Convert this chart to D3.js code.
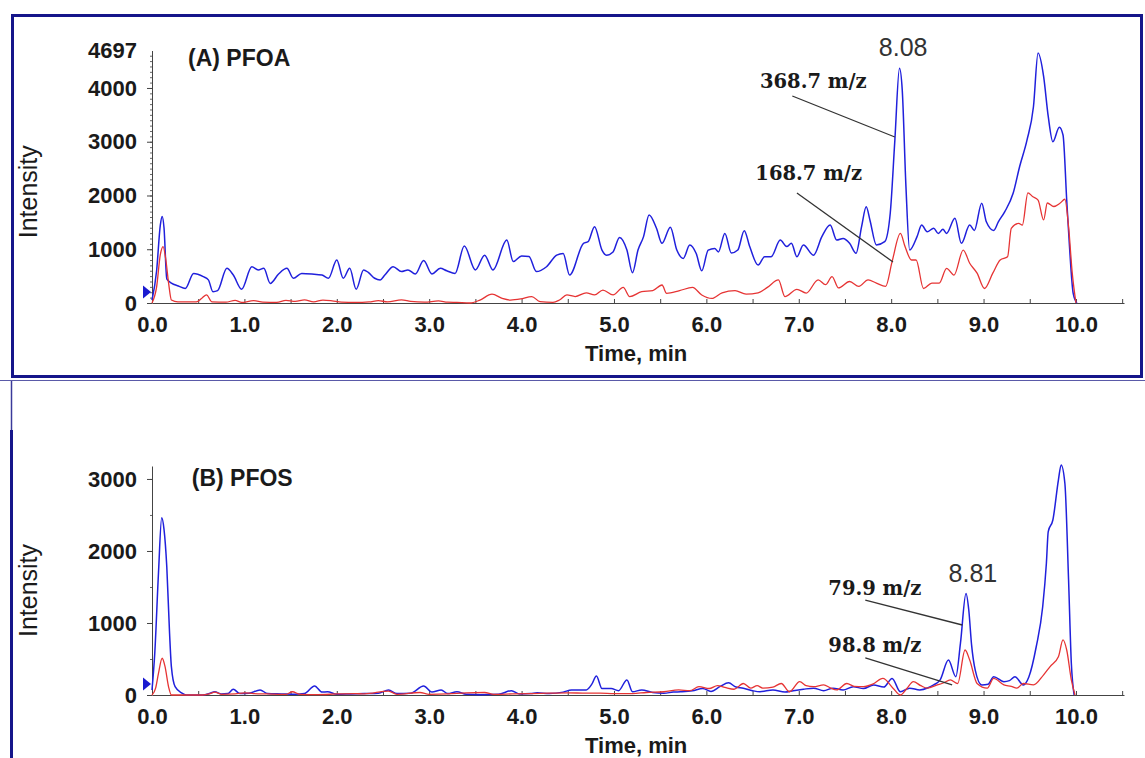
<!DOCTYPE html>
<html>
<head>
<meta charset="utf-8">
<script src="https://cdn.jsdelivr.net/npm/d3@7"></script>
<style>
  body { margin: 0; background: #fff; }
  svg { display: block; }
  .tick text { font-family: "Liberation Sans", Arial, sans-serif; font-weight: bold; font-size: 22px; fill: #1a1a1a; }
</style>
</head>
<body>
<script>
// PFOA, 368.7 m/z trace (time in min, intensity)
var pfoa369 = [[0,55],[0.05,600],[0.09,1450],[0.11,1610],[0.13,1400],[0.16,450],[0.21,370],[0.285,316],[0.36,270],[0.45,550],
  [0.555,490],[0.61,430],[0.66,210],[0.71,230],[0.81,645],[0.88,520],[0.97,255],[1.08,675],[1.15,615],[1.21,645],
  [1.28,365],[1.37,540],[1.46,645],[1.53,460],[1.62,550],[1.73,540],[1.84,520],[1.91,460],[2.0,800],[2.07,460],
  [2.14,645],[2.21,255],[2.29,615],[2.34,570],[2.41,460],[2.47,430],[2.52,520],[2.61,675],[2.70,585],[2.77,615],
  [2.85,540],[2.94,790],[3.03,540],[3.12,645],[3.19,600],[3.28,550],[3.38,1060],[3.50,615],[3.60,890],[3.69,615],
  [3.84,1170],[3.91,770],[4.0,875],[4.08,865],[4.16,585],[4.27,675],[4.38,890],[4.45,920],[4.52,520],[4.67,1110],
  [4.72,1140],[4.79,1420],[4.87,985],[4.92,890],[4.99,950],[5.06,1220],[5.14,985],[5.20,565],[5.26,985],[5.32,1235],
  [5.38,1637],[5.46,1390],[5.52,1110],[5.61,1410],[5.68,985],[5.75,830],[5.82,1080],[5.89,920],[5.95,600],[6.02,985],
  [6.09,1015],[6.13,950],[6.20,1295],[6.27,930],[6.34,985],[6.41,1345],[6.47,1045],[6.56,705],[6.63,860],[6.70,860],
  [6.80,1170],[6.87,1050],[6.92,1110],[6.98,860],[7.05,1080],[7.16,890],[7.25,1235],[7.34,1450],[7.41,1170],[7.48,1200],
  [7.55,1110],[7.62,925],[7.68,1420],[7.73,1790],[7.77,1545],[7.84,1080],[7.93,1140],[7.99,1670],[8.04,3030],[8.09,4365],
  [8.12,3960],[8.16,2165],[8.20,985],[8.28,1235],[8.33,1450],[8.39,1325],[8.46,1390],[8.51,1295],[8.56,1370],[8.60,1295],
  [8.69,1575],[8.76,1110],[8.85,1450],[8.90,1350],[8.98,1855],[9.03,1510],[9.11,1350],[9.16,1510],[9.23,1700],[9.32,2040],
  [9.39,2535],[9.47,3030],[9.54,3650],[9.59,4650],[9.65,4215],[9.70,3470],[9.75,3000],[9.82,3270],[9.86,3125],[9.90,1915],
  [9.93,1050],[9.97,180],[10.01,0]];

// PFOA, 168.7 m/z trace
var pfoa169 = [[0,0],[0.05,300],[0.09,900],[0.12,1050],[0.15,800],[0.18,365],[0.21,55],[0.28,20],[0.48,20],[0.54,90],
  [0.59,150],[0.65,20],[0.8,15],[0.9,50],[0.97,10],[1.1,45],[1.2,15],[1.35,10],[1.45,50],[1.55,30],
  [1.65,60],[1.75,20],[1.85,55],[1.95,40],[2.05,15],[2.2,10],[2.35,20],[2.45,45],[2.55,20],[2.7,60],
  [2.8,30],[2.95,15],[3.1,40],[3.2,15],[3.3,10],[3.44,0],[3.55,55],[3.68,165],[3.79,85],[3.88,55],
  [3.99,75],[4.11,120],[4.2,25],[4.34,10],[4.41,55],[4.49,150],[4.58,120],[4.70,190],[4.79,150],[4.88,240],
  [4.99,150],[5.10,290],[5.17,120],[5.30,210],[5.42,230],[5.52,335],[5.57,180],[5.71,230],[5.85,290],[5.95,150],
  [6.06,85],[6.17,190],[6.31,230],[6.43,165],[6.56,190],[6.66,290],[6.78,430],[6.85,120],[6.98,255],[7.08,185],
  [7.21,430],[7.29,340],[7.36,490],[7.43,280],[7.55,400],[7.65,310],[7.75,430],[7.84,370],[7.94,310],[8.01,770],
  [8.10,1295],[8.15,1050],[8.22,800],[8.27,800],[8.35,270],[8.44,370],[8.52,370],[8.60,645],[8.68,520],[8.78,985],
  [8.85,740],[8.93,555],[9.01,270],[9.10,555],[9.18,800],[9.26,860],[9.30,1390],[9.38,1480],[9.42,1450],[9.48,2050],
  [9.53,1980],[9.59,1915],[9.65,1545],[9.69,1860],[9.76,1795],[9.83,1860],[9.88,1930],[9.92,1420],[9.96,555],[10.0,0]];

// PFOS, 79.9 m/z trace
var pfos80 = [[0,70],[0.03,580],[0.07,1690],[0.105,2460],[0.13,2300],[0.16,1780],[0.19,860],[0.21,390],[0.25,115],[0.32,30],
  [0.37,0],[0.55,0],[0.62,20],[0.68,45],[0.75,15],[0.82,20],[0.88,80],[0.95,20],[1.05,25],[1.17,70],
  [1.25,20],[1.4,15],[1.55,10],[1.65,20],[1.76,125],[1.84,40],[1.9,45],[2.0,10],[2.15,15],[2.3,20],
  [2.45,25],[2.56,70],[2.65,20],[2.8,25],[2.94,125],[3.03,40],[3.13,70],[3.2,20],[3.3,45],[3.4,10],
  [3.55,5],[3.75,10],[3.89,60],[3.98,15],[4.1,20],[4.17,30],[4.3,20],[4.45,40],[4.54,70],[4.7,70],
  [4.76,150],[4.81,265],[4.87,90],[4.97,90],[5.05,60],[5.14,210],[5.2,45],[5.3,70],[5.42,35],[5.54,25],
  [5.64,40],[5.72,45],[5.85,60],[5.96,90],[6.05,50],[6.15,120],[6.24,170],[6.32,110],[6.4,95],[6.5,60],
  [6.58,45],[6.72,70],[6.85,40],[6.94,60],[7.05,80],[7.16,95],[7.27,60],[7.37,95],[7.48,70],[7.59,115],
  [7.7,90],[7.81,140],[7.92,110],[8.01,230],[8.1,45],[8.2,95],[8.31,70],[8.4,100],[8.46,140],[8.53,210],
  [8.62,485],[8.70,255],[8.75,720],[8.81,1410],[8.84,1180],[8.87,700],[8.91,345],[8.98,140],[9.05,150],[9.11,255],
  [9.22,185],[9.28,200],[9.34,255],[9.43,140],[9.49,250],[9.57,670],[9.64,1225],[9.68,1830],[9.70,2270],[9.75,2430],
  [9.81,2985],[9.84,3195],[9.88,2940],[9.92,1600],[9.95,440],[9.98,0]];

// PFOS, 98.8 m/z trace
var pfos99 = [[0,0],[0.04,100],[0.07,300],[0.11,510],[0.14,400],[0.18,110],[0.21,0],[0.55,0],[0.62,15],[0.68,40],
  [0.75,10],[0.9,15],[1.0,30],[1.1,20],[1.25,15],[1.45,10],[1.52,45],[1.6,10],[1.8,5],[2.0,15],
  [2.2,20],[2.3,15],[2.56,55],[2.65,10],[2.9,35],[3.0,10],[3.2,15],[3.4,30],[3.6,35],[3.7,10],
  [3.9,15],[4.1,20],[4.3,25],[4.5,30],[4.7,25],[4.85,25],[5.0,20],[5.2,20],[5.35,35],[5.54,45],
  [5.7,70],[5.82,60],[5.92,115],[6.03,90],[6.12,130],[6.2,105],[6.3,80],[6.40,160],[6.48,95],[6.55,130],
  [6.61,95],[6.72,110],[6.81,160],[6.90,45],[7.01,185],[7.08,130],[7.16,115],[7.27,140],[7.34,100],[7.41,70],
  [7.52,160],[7.6,120],[7.70,115],[7.8,150],[7.91,230],[8.02,95],[8.10,0],[8.17,90],[8.24,185],[8.32,130],
  [8.39,95],[8.50,140],[8.57,170],[8.64,210],[8.72,160],[8.80,625],[8.85,485],[8.93,160],[9.04,95],[9.11,230],
  [9.22,140],[9.30,120],[9.36,95],[9.43,160],[9.54,140],[9.65,280],[9.72,395],[9.81,530],[9.86,765],[9.90,625],
  [9.95,210],[9.99,0]];

// tick labels
var xTickLabels = ["0.0","1.0","2.0","3.0","4.0","5.0","6.0","7.0","8.0","9.0","10.0"];
var yTicksA = [0, 1000, 2000, 3000, 4000, 4697];
var yTicksB = [0, 1000, 2000, 3000];

// annotations: [text, t, intensity] and leader lines [t1, v1, t2, v2]
var labelsA = [["368.7 m/z", 6.58, 4000], ["168.7 m/z", 6.53, 2288]];
var leadersA = [[6.93, 3851, 8.04, 3088], [6.98, 2047, 8.02, 763]];
var peakA = ["8.08", 8.13, 4586];
var labelsB = [["79.9 m/z", 7.32, 1389], ["98.8 m/z", 7.32, 597]];
var leadersB = [[7.72, 1319, 8.77, 972], [7.72, 514, 8.66, 139]];
var peakB = ["8.81", 8.885, 1569];

var W = 1145, H = 758;
var svg = d3.select("body").append("svg").attr("width", W).attr("height", H);

// panel frames
svg.append("rect").attr("x", 12.5).attr("y", 15.5).attr("width", 1129).attr("height", 361)
  .attr("fill", "none").attr("stroke", "#16168a").attr("stroke-width", 3);
svg.append("line").attr("x1", 0).attr("x2", W).attr("y1", 380.5).attr("y2", 380.5)
  .attr("stroke", "#5a5aa8").attr("stroke-width", 1);
svg.append("line").attr("x1", 11.5).attr("x2", 11.5).attr("y1", 381).attr("y2", 430)
  .attr("stroke", "#3a3a9a").attr("stroke-width", 1.5);
svg.append("line").attr("x1", 11.5).attr("x2", 11.5).attr("y1", 430).attr("y2", H)
  .attr("stroke", "#16168a").attr("stroke-width", 3);

var x0 = 152, x1 = 1124;

function drawPanel(opt) {
  var x = d3.scaleLinear().domain([0, 10.52]).range([x0, x1]);
  var y = d3.scaleLinear().domain([0, opt.yMax]).range([opt.yBase, opt.yTop]);
  var g = svg.append("g");

  // minor y ticks
  g.append("g").attr("transform", "translate(" + x0 + ",0)")
    .call(d3.axisLeft(y).tickValues(d3.range(0, opt.yMax, opt.minor)).tickSize(2).tickFormat(""))
    .call(function (s) { s.select(".domain").remove(); s.selectAll("line").attr("stroke", "#666"); });

  // y axis
  g.append("g").attr("transform", "translate(" + x0 + ",0)")
    .call(d3.axisLeft(y).tickValues(opt.yTicks).tickSize(5).tickPadding(10).tickFormat(d3.format("d")).tickSizeOuter(0))
    .call(function (s) {
      s.select(".domain").attr("stroke", "#444");
      s.selectAll("line").attr("stroke", "#444");
      s.selectAll(".tick").filter(function (d) { return d === 4697; }).select("line").remove();
    });

  // x axis
  g.append("g").attr("transform", "translate(0," + opt.yBase + ")")
    .call(d3.axisBottom(x).tickValues(d3.range(0, 10.6, 0.5)).tickSize(-4).tickPadding(13).tickSizeOuter(0)
      .tickFormat(function (d) { return d % 1 === 0 ? xTickLabels[d] : ""; }))
    .call(function (s) { s.select(".domain").attr("stroke", "#444"); s.selectAll("line").attr("stroke", "#444"); });

  g.append("text").attr("x", x(5.24)).attr("y", opt.yBase + opt.titleGap)
    .attr("text-anchor", "middle").attr("font-family", "Liberation Sans, Arial, sans-serif")
    .attr("font-weight", "bold").attr("font-size", 22).attr("fill", "#1a1a1a").text("Time, min");

  var midY = (opt.yBase + opt.yTop) / 2 + opt.labelShift;
  g.append("text").attr("transform", "translate(37," + midY + ") rotate(-90)")
    .attr("text-anchor", "middle").attr("font-family", "Liberation Sans, Arial, sans-serif")
    .attr("font-size", 25).attr("fill", "#1a1a1a").text("Intensity");

  // marker triangle at the baseline
  var ty = y(0) - 11;
  g.append("path").attr("d", "M" + (x0 - 9) + "," + (ty - 6.5) + "L" + (x0 - 9) + "," + (ty + 6.5) + "L" + (x0 - 1) + "," + ty + "Z")
    .attr("fill", "#1a1ad0");

  var line = d3.line().x(function (d) { return x(d[0]); }).y(function (d) { return y(d[1]); }).curve(d3.curveMonotoneX);
  g.append("path").datum(opt.blue).attr("d", line).attr("fill", "none").attr("stroke", "#2020dc").attr("stroke-width", 1.5);
  g.append("path").datum(opt.red).attr("d", line).attr("fill", "none").attr("stroke", "#e63434").attr("stroke-width", 1.3);

  // title
  g.append("text").attr("x", x(opt.title[1])).attr("y", y(opt.title[2]))
    .attr("font-family", "Liberation Sans, Arial, sans-serif").attr("font-weight", "bold")
    .attr("font-size", 23).attr("fill", "#1a1a1a").text(opt.title[0]);

  // leaders and m/z labels
  g.selectAll(".leader").data(opt.leaders).enter().append("line")
    .attr("x1", function (d) { return x(d[0]); }).attr("y1", function (d) { return y(d[1]); })
    .attr("x2", function (d) { return x(d[2]); }).attr("y2", function (d) { return y(d[3]); })
    .attr("stroke", "#333").attr("stroke-width", 1.3);
  g.selectAll(".mz").data(opt.labels).enter().append("text")
    .attr("x", function (d) { return x(d[1]); }).attr("y", function (d) { return y(d[2]); })
    .attr("font-family", "DejaVu Serif, serif").attr("font-weight", "bold").attr("font-size", 19.5)
    .attr("fill", "#1a1a1a").text(function (d) { return d[0]; });

  g.append("text").attr("x", x(opt.peak[1])).attr("y", y(opt.peak[2])).attr("text-anchor", "middle")
    .attr("font-family", "Liberation Sans, Arial, sans-serif").attr("font-size", 25)
    .attr("fill", "#333").text(opt.peak[0]);
}

drawPanel({ yMax: 4697, yBase: 303, yTop: 50.5, yTicks: yTicksA, minor: 100, titleGap: 58, labelShift: 15,
  blue: pfoa369, red: pfoa169, title: ["(A) PFOA", 0.39, 4409], labels: labelsA, leaders: leadersA, peak: peakA });
drawPanel({ yMax: 3180, yBase: 695, yTop: 466, yTicks: yTicksB, minor: 500, titleGap: 58, labelShift: 10,
  blue: pfos80, red: pfos99, title: ["(B) PFOS", 0.43, 2902], labels: labelsB, leaders: leadersB, peak: peakB });
</script>
</body>
</html>
